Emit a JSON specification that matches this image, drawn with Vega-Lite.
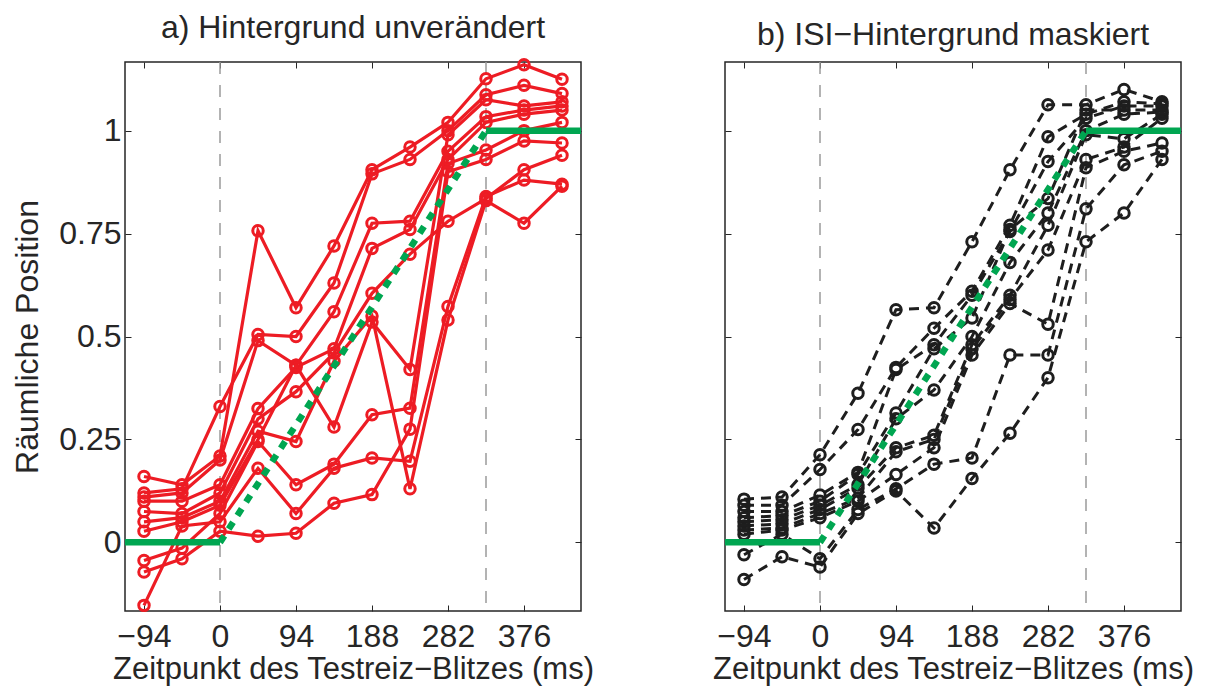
{
  "$schema": "https://vega.github.io/schema/vega-lite/v6.json",
  "padding": {"left": 10, "top": 10, "right": 5, "bottom": 2},
  "background": "white",
  "config": {
    "font": "Liberation Sans",
    "view": {"stroke": "#262626", "strokeWidth": 1.5},
    "axis": {"grid": false, "domain": false, "tickColor": "#262626", "tickWidth": 1, "tickSize": -6,
      "labelFont": "Liberation Sans", "labelFontSize": 32, "labelColor": "#262626",
      "titleFont": "Liberation Sans", "titleFontSize": 31, "titleFontWeight": "normal", "titleColor": "#262626"},
    "title": {"font": "Liberation Sans", "fontSize": 32, "fontWeight": "normal", "color": "#262626", "anchor": "middle", "baseline": "alphabetic", "offset": 9}
  },
  "datasets": {
    "L": [
      {"s":1,"t":-94,"v":0.12},{"s":1,"t":-47,"v":0.13},{"s":1,"t":0,"v":0.33},{"s":1,"t":47,"v":0.505},{"s":1,"t":94,"v":0.5},{"s":1,"t":141,"v":0.63},{"s":1,"t":188,"v":0.895},{"s":1,"t":235,"v":0.93},{"s":1,"t":282,"v":1.0},{"s":1,"t":329,"v":1.087},{"s":1,"t":376,"v":1.11},{"s":1,"t":423,"v":1.09},
      {"s":2,"t":-94,"v":0.16},{"s":2,"t":-47,"v":0.14},{"s":2,"t":0,"v":0.21},{"s":2,"t":47,"v":0.757},{"s":2,"t":94,"v":0.57},{"s":2,"t":141,"v":0.72},{"s":2,"t":188,"v":0.905},{"s":2,"t":235,"v":0.96},{"s":2,"t":282,"v":1.02},{"s":2,"t":329,"v":1.126},{"s":2,"t":376,"v":1.16},{"s":2,"t":423,"v":1.125},
      {"s":3,"t":-94,"v":0.11},{"s":3,"t":-47,"v":0.12},{"s":3,"t":0,"v":0.2},{"s":3,"t":47,"v":0.49},{"s":3,"t":94,"v":0.43},{"s":3,"t":141,"v":0.56},{"s":3,"t":188,"v":0.775},{"s":3,"t":235,"v":0.78},{"s":3,"t":282,"v":0.95},{"s":3,"t":329,"v":1.034},{"s":3,"t":376,"v":1.05},{"s":3,"t":423,"v":1.06},
      {"s":4,"t":-94,"v":0.1},{"s":4,"t":-47,"v":0.1},{"s":4,"t":0,"v":0.14},{"s":4,"t":47,"v":0.325},{"s":4,"t":94,"v":0.425},{"s":4,"t":141,"v":0.47},{"s":4,"t":188,"v":0.714},{"s":4,"t":235,"v":0.76},{"s":4,"t":282,"v":0.93},{"s":4,"t":329,"v":1.02},{"s":4,"t":376,"v":1.04},{"s":4,"t":423,"v":1.05},
      {"s":5,"t":-94,"v":0.075},{"s":5,"t":-47,"v":0.07},{"s":5,"t":0,"v":0.12},{"s":5,"t":47,"v":0.3},{"s":5,"t":94,"v":0.366},{"s":5,"t":141,"v":0.46},{"s":5,"t":188,"v":0.605},{"s":5,"t":235,"v":0.7},{"s":5,"t":282,"v":0.78},{"s":5,"t":329,"v":0.835},{"s":5,"t":376,"v":0.905},{"s":5,"t":423,"v":0.94},
      {"s":6,"t":-94,"v":0.05},{"s":6,"t":-47,"v":0.06},{"s":6,"t":0,"v":0.1},{"s":6,"t":47,"v":0.27},{"s":6,"t":94,"v":0.245},{"s":6,"t":141,"v":0.44},{"s":6,"t":188,"v":0.55},{"s":6,"t":235,"v":0.13},{"s":6,"t":282,"v":0.54},{"s":6,"t":329,"v":0.83},{"s":6,"t":376,"v":0.775},{"s":6,"t":423,"v":0.865},
      {"s":7,"t":-94,"v":0.027},{"s":7,"t":-47,"v":0.05},{"s":7,"t":0,"v":0.09},{"s":7,"t":47,"v":0.25},{"s":7,"t":94,"v":0.43},{"s":7,"t":141,"v":0.28},{"s":7,"t":188,"v":0.535},{"s":7,"t":235,"v":0.42},{"s":7,"t":282,"v":0.99},{"s":7,"t":329,"v":1.075},{"s":7,"t":376,"v":1.06},{"s":7,"t":423,"v":1.07},
      {"s":8,"t":-94,"v":-0.044},{"s":8,"t":-47,"v":-0.014},{"s":8,"t":0,"v":0.07},{"s":8,"t":47,"v":0.245},{"s":8,"t":94,"v":0.14},{"s":8,"t":141,"v":0.19},{"s":8,"t":188,"v":0.31},{"s":8,"t":235,"v":0.326},{"s":8,"t":282,"v":0.92},{"s":8,"t":329,"v":0.953},{"s":8,"t":376,"v":1.0},{"s":8,"t":423,"v":1.02},
      {"s":9,"t":-94,"v":-0.072},{"s":9,"t":-47,"v":-0.04},{"s":9,"t":0,"v":0.027},{"s":9,"t":47,"v":0.015},{"s":9,"t":94,"v":0.022},{"s":9,"t":141,"v":0.095},{"s":9,"t":188,"v":0.116},{"s":9,"t":235,"v":0.275},{"s":9,"t":282,"v":0.9},{"s":9,"t":329,"v":0.93},{"s":9,"t":376,"v":0.975},{"s":9,"t":423,"v":0.97},
      {"s":10,"t":-94,"v":-0.153},{"s":10,"t":-47,"v":0.04},{"s":10,"t":0,"v":0.05},{"s":10,"t":47,"v":0.18},{"s":10,"t":94,"v":0.07},{"s":10,"t":141,"v":0.18},{"s":10,"t":188,"v":0.205},{"s":10,"t":235,"v":0.197},{"s":10,"t":282,"v":0.573},{"s":10,"t":329,"v":0.84},{"s":10,"t":376,"v":0.88},{"s":10,"t":423,"v":0.87}
    ],
    "R": [
      {"s":1,"t":-94,"v":0.105},{"s":1,"t":-47,"v":0.11},{"s":1,"t":0,"v":0.213},{"s":1,"t":47,"v":0.362},{"s":1,"t":94,"v":0.565},{"s":1,"t":141,"v":0.57},{"s":1,"t":188,"v":0.73},{"s":1,"t":235,"v":0.905},{"s":1,"t":282,"v":1.063},{"s":1,"t":329,"v":1.063},{"s":1,"t":376,"v":1.1},{"s":1,"t":423,"v":1.07},
      {"s":2,"t":-94,"v":0.09},{"s":2,"t":-47,"v":0.09},{"s":2,"t":0,"v":0.177},{"s":2,"t":47,"v":0.274},{"s":2,"t":94,"v":0.425},{"s":2,"t":141,"v":0.52},{"s":2,"t":188,"v":0.61},{"s":2,"t":235,"v":0.77},{"s":2,"t":282,"v":0.985},{"s":2,"t":329,"v":1.04},{"s":2,"t":376,"v":1.07},{"s":2,"t":423,"v":1.065},
      {"s":3,"t":-94,"v":0.075},{"s":3,"t":-47,"v":0.075},{"s":3,"t":0,"v":0.115},{"s":3,"t":47,"v":0.17},{"s":3,"t":94,"v":0.42},{"s":3,"t":141,"v":0.48},{"s":3,"t":188,"v":0.6},{"s":3,"t":235,"v":0.755},{"s":3,"t":282,"v":0.925},{"s":3,"t":329,"v":1.03},{"s":3,"t":376,"v":1.06},{"s":3,"t":423,"v":1.06},
      {"s":4,"t":-94,"v":0.06},{"s":4,"t":-47,"v":0.065},{"s":4,"t":0,"v":0.1},{"s":4,"t":47,"v":0.165},{"s":4,"t":94,"v":0.314},{"s":4,"t":141,"v":0.47},{"s":4,"t":188,"v":0.545},{"s":4,"t":235,"v":0.76},{"s":4,"t":282,"v":0.835},{"s":4,"t":329,"v":1.05},{"s":4,"t":376,"v":1.05},{"s":4,"t":423,"v":1.05},
      {"s":5,"t":-94,"v":0.05},{"s":5,"t":-47,"v":0.055},{"s":5,"t":0,"v":0.09},{"s":5,"t":47,"v":0.14},{"s":5,"t":94,"v":0.3},{"s":5,"t":141,"v":0.37},{"s":5,"t":188,"v":0.5},{"s":5,"t":235,"v":0.68},{"s":5,"t":282,"v":0.8},{"s":5,"t":329,"v":1.0},{"s":5,"t":376,"v":1.04},{"s":5,"t":423,"v":1.045},
      {"s":6,"t":-94,"v":0.04},{"s":6,"t":-47,"v":0.045},{"s":6,"t":0,"v":0.08},{"s":6,"t":47,"v":0.132},{"s":6,"t":94,"v":0.23},{"s":6,"t":141,"v":0.26},{"s":6,"t":188,"v":0.48},{"s":6,"t":235,"v":0.6},{"s":6,"t":282,"v":0.77},{"s":6,"t":329,"v":0.99},{"s":6,"t":376,"v":0.98},{"s":6,"t":423,"v":1.04},
      {"s":7,"t":-94,"v":0.03},{"s":7,"t":-47,"v":0.035},{"s":7,"t":0,"v":0.07},{"s":7,"t":47,"v":0.107},{"s":7,"t":94,"v":0.22},{"s":7,"t":141,"v":0.25},{"s":7,"t":188,"v":0.47},{"s":7,"t":235,"v":0.59},{"s":7,"t":282,"v":0.71},{"s":7,"t":329,"v":0.93},{"s":7,"t":376,"v":0.96},{"s":7,"t":423,"v":1.03},
      {"s":8,"t":-94,"v":0.02},{"s":8,"t":-47,"v":0.03},{"s":8,"t":0,"v":0.06},{"s":8,"t":47,"v":0.1},{"s":8,"t":94,"v":0.165},{"s":8,"t":141,"v":0.23},{"s":8,"t":188,"v":0.455},{"s":8,"t":235,"v":0.58},{"s":8,"t":282,"v":0.53},{"s":8,"t":329,"v":0.91},{"s":8,"t":376,"v":0.95},{"s":8,"t":423,"v":0.97},
      {"s":9,"t":-94,"v":-0.03},{"s":9,"t":-47,"v":0.02},{"s":9,"t":0,"v":-0.04},{"s":9,"t":47,"v":0.08},{"s":9,"t":94,"v":0.13},{"s":9,"t":141,"v":0.19},{"s":9,"t":188,"v":0.205},{"s":9,"t":235,"v":0.455},{"s":9,"t":282,"v":0.455},{"s":9,"t":329,"v":0.81},{"s":9,"t":376,"v":0.917},{"s":9,"t":423,"v":0.95},
      {"s":10,"t":-94,"v":-0.09},{"s":10,"t":-47,"v":-0.035},{"s":10,"t":0,"v":-0.06},{"s":10,"t":47,"v":0.07},{"s":10,"t":94,"v":0.125},{"s":10,"t":141,"v":0.035},{"s":10,"t":188,"v":0.155},{"s":10,"t":235,"v":0.265},{"s":10,"t":282,"v":0.4},{"s":10,"t":329,"v":0.73},{"s":10,"t":376,"v":0.8},{"s":10,"t":423,"v":0.93}
    ],
    "G": [
      {"seg":"a","t":-117.5,"v":0},{"seg":"a","t":0,"v":0},
      {"seg":"b","t":329,"v":1},{"seg":"b","t":446.5,"v":1}
    ],
    "GD": [{"t":0,"v":0},{"t":329,"v":1}],
    "V": [{"t":0},{"t":329}]
  },
  "hconcat": [
    {
      "width": 456, "height": 549,
      "title": "a) Hintergrund unverändert",
      "resolve": {"axis": {"x": "independent", "y": "independent"}},
      "layer": [
        {"data": {"name": "V"}, "mark": {"type": "rule", "color": "#9a9a9a", "strokeWidth": 1.5, "strokeDash": [12, 11]},
         "encoding": {"x": {"field": "t", "type": "quantitative", "scale": {"domain": [-117.5, 446.5], "nice": false, "zero": false}, "axis": null}}},
        {"data": {"name": "L"}, "mark": {"type": "line", "color": "#ed1c24", "strokeWidth": 3.2},
         "encoding": {
           "x": {"field": "t", "type": "quantitative", "scale": {"domain": [-117.5, 446.5], "nice": false, "zero": false},
                 "axis": {"orient": "bottom", "values": [-94, 0, 94, 188, 282, 376], "format": "d", "labelPadding": 16, "titlePadding": 2, "title": "Zeitpunkt des Testreiz−Blitzes (ms)"}},
           "y": {"field": "v", "type": "quantitative", "scale": {"domain": [-0.16667, 1.16667], "nice": false, "zero": false},
                 "axis": {"orient": "left", "values": [0, 0.25, 0.5, 0.75, 1], "labelExpr": "'' + datum.value", "labelPadding": 10, "titlePadding": 14, "titleFontSize": 32, "title": "Räumliche Position"}},
           "detail": {"field": "s"}}},
        {"data": {"name": "L"}, "mark": {"type": "point", "shape": "circle", "filled": false, "color": "#ed1c24", "strokeWidth": 3, "size": 110, "opacity": 1},
         "encoding": {"x": {"field": "t", "type": "quantitative", "axis": null}, "y": {"field": "v", "type": "quantitative", "axis": null}}},
        {"data": {"name": "G"}, "mark": {"type": "line", "color": "#00a651", "strokeWidth": 6.5, "strokeCap": "butt"},
         "encoding": {
           "x": {"field": "t", "type": "quantitative", "axis": {"orient": "top", "values": [-94, 0, 94, 188, 282, 376], "labels": false, "title": null}},
           "y": {"field": "v", "type": "quantitative", "axis": {"orient": "right", "values": [0, 0.25, 0.5, 0.75, 1], "labels": false, "title": null}},
           "detail": {"field": "seg"}}},
        {"data": {"name": "GD"}, "mark": {"type": "line", "color": "#00a651", "strokeWidth": 6.5, "strokeDash": [8, 8], "strokeCap": "butt"},
         "encoding": {"x": {"field": "t", "type": "quantitative", "axis": null}, "y": {"field": "v", "type": "quantitative", "axis": null}}}
      ]
    },
    {
      "width": 456, "height": 549,
      "title": "b) ISI−Hintergrund maskiert",
      "resolve": {"axis": {"x": "independent", "y": "independent"}},
      "layer": [
        {"data": {"name": "V"}, "mark": {"type": "rule", "color": "#9a9a9a", "strokeWidth": 1.5, "strokeDash": [12, 11]},
         "encoding": {"x": {"field": "t", "type": "quantitative", "scale": {"domain": [-117.5, 446.5], "nice": false, "zero": false}, "axis": null}}},
        {"data": {"name": "R"}, "mark": {"type": "line", "color": "#1e1e1e", "strokeWidth": 3, "strokeDash": [10, 7]},
         "encoding": {
           "x": {"field": "t", "type": "quantitative", "scale": {"domain": [-117.5, 446.5], "nice": false, "zero": false},
                 "axis": {"orient": "bottom", "values": [-94, 0, 94, 188, 282, 376], "format": "d", "labelPadding": 16, "titlePadding": 2, "title": "Zeitpunkt des Testreiz−Blitzes (ms)"}},
           "y": {"field": "v", "type": "quantitative", "scale": {"domain": [-0.16667, 1.16667], "nice": false, "zero": false},
                 "axis": {"orient": "left", "values": [0, 0.25, 0.5, 0.75, 1], "labels": false, "title": null}},
           "detail": {"field": "s"}}},
        {"data": {"name": "R"}, "mark": {"type": "point", "shape": "circle", "filled": false, "color": "#1e1e1e", "strokeWidth": 3, "size": 110, "opacity": 1},
         "encoding": {"x": {"field": "t", "type": "quantitative", "axis": null}, "y": {"field": "v", "type": "quantitative", "axis": null}}},
        {"data": {"name": "G"}, "mark": {"type": "line", "color": "#00a651", "strokeWidth": 6.5, "strokeCap": "butt"},
         "encoding": {
           "x": {"field": "t", "type": "quantitative", "axis": {"orient": "top", "values": [-94, 0, 94, 188, 282, 376], "labels": false, "title": null}},
           "y": {"field": "v", "type": "quantitative", "axis": {"orient": "right", "values": [0, 0.25, 0.5, 0.75, 1], "labels": false, "title": null}},
           "detail": {"field": "seg"}}},
        {"data": {"name": "GD"}, "mark": {"type": "line", "color": "#00a651", "strokeWidth": 6.5, "strokeDash": [8, 8], "strokeCap": "butt"},
         "encoding": {"x": {"field": "t", "type": "quantitative", "axis": null}, "y": {"field": "v", "type": "quantitative", "axis": null}}}
      ]
    }
  ],
  "spacing": 144,
  "bounds": "flush"
}
